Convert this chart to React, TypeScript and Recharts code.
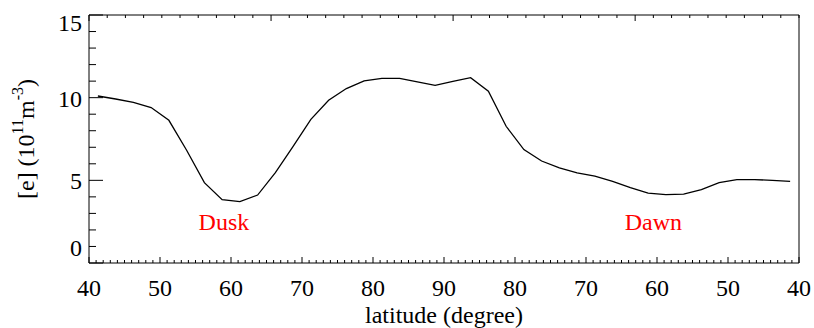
import { Label, Line, LineChart, ReferenceDot, XAxis, YAxis } from "recharts";

// position along the pass: 0 = 40° dusk side, 50 = 90°, 100 = 40° dawn side
const trackPos = [
  1.25, 3.75, 6.25, 8.75, 11.25, 13.75, 16.25, 18.75, 21.25, 23.75,
  26.25, 28.75, 31.25, 33.75, 36.25, 38.75, 41.25, 43.75, 46.25, 48.75,
  51.25, 53.75, 56.25, 58.75, 61.25, 63.75, 66.25, 68.75, 71.25, 73.75,
  76.25, 78.75, 81.25, 83.75, 86.25, 88.75, 91.25, 93.75, 96.25, 98.75,
];
// electron density, 10^11 m^-3
const density = [
  10.1, 9.92, 9.72, 9.4, 8.63, 6.82, 4.86, 3.83, 3.71, 4.11,
  5.47, 7.06, 8.69, 9.84, 10.55, 11.01, 11.17, 11.17, 10.95, 10.75,
  10.99, 11.21, 10.39, 8.27, 6.86, 6.17, 5.75, 5.45, 5.25, 4.94,
  4.56, 4.22, 4.14, 4.17, 4.44, 4.86, 5.04, 5.04, 5.0, 4.94,
];
const xTickLabels = ["40", "50", "60", "70", "80", "90", "80", "70", "60", "50", "40"];
const yTicks = [0, 1, 2, 3, 4, 5, 6, 7, 8, 9, 10, 11, 12, 13, 14, 15];
const yTickLabels: Record<number, string> = { 0: "0", 5: "5", 10: "10", 15: "15" };
const annotations = [
  { pos: 19, value: 2.5, text: "Dusk" },
  { pos: 79.5, value: 2.5, text: "Dawn" },
];

const data = trackPos.map((t, i) => ({ t, ne: density[i] }));
const xTicks = Array.from({ length: 101 }, (_, i) => i);

const FONT = '"Liberation Serif", "Times New Roman", Times, "DejaVu Serif", serif';
const FS = 24;
const txt = { fontFamily: FONT, fontSize: FS };

const BottomTick = (p: any) => {
  const v = p.payload.value;
  const major = v % 10 === 0;
  return (
    <g>
      <line x1={p.x} x2={p.x} y1={p.y} y2={p.y - (major ? 6 : 3)} stroke="#000" />
      {major && (
        <text x={p.x} y={p.y + 33} textAnchor="middle" style={txt} fill="#000">
          {xTickLabels[v / 10]}
        </text>
      )}
    </g>
  );
};

const TopTick = (p: any) => {
  const major = p.payload.value % 10 === 0;
  return <line x1={p.x} x2={p.x} y1={p.y} y2={p.y + (major ? 6 : 3)} stroke="#000" />;
};

const LeftTick = (p: any) => {
  const v = p.payload.value;
  const major = v % 5 === 0;
  // the edge labels sit a little inside the frame in the original
  const shift = v === 15 ? 7 : v === 0 ? -16 : 0;
  return (
    <g>
      <line x1={p.x} x2={p.x + (major ? 14 : 7)} y1={p.y} y2={p.y} stroke="#000" />
      {major && (
        <text x={p.x - 7} y={p.y + shift + 9} textAnchor="end" style={txt} fill="#000">
          {yTickLabels[v]}
        </text>
      )}
    </g>
  );
};

const RightTick = (p: any) => {
  const major = p.payload.value % 5 === 0;
  return <line x1={p.x} x2={p.x - (major ? 14 : 7)} y1={p.y} y2={p.y} stroke="#000" />;
};

const YTitle = (props: any) => {
  const vb = props.viewBox;
  const cy = vb.y + vb.height / 2;
  const bx = 34;
  return (
    <text x={bx} y={cy} transform={`rotate(-90, ${bx}, ${cy})`} textAnchor="middle" style={txt} fill="#000">
      <tspan>[e] (10</tspan>
      <tspan style={{ fontSize: 16 }} dy={-11}>11</tspan>
      <tspan dy={11}>m</tspan>
      <tspan style={{ fontSize: 16 }} dy={-11}>-3</tspan>
      <tspan dy={11}>)</tspan>
    </text>
  );
};

const XTitle = (props: any) => {
  const vb = props.viewBox;
  return (
    <text x={vb.x + vb.width / 2} y={vb.y + 60} textAnchor="middle" style={txt} fill="#000">
      latitude (degree)
    </text>
  );
};

export default function App() {
  return (
    <div style={{ position: "absolute", left: 0, top: 0, width: 814, height: 328, background: "#fff", fontFamily: FONT }}>
      <LineChart width={814} height={328} data={data} margin={{ top: 0, right: 0, bottom: 0, left: 0 }}>
        <XAxis
          xAxisId="b"
          dataKey="t"
          type="number"
          domain={[0, 100]}
          ticks={xTicks}
          interval={0}
          tickSize={0}
          tickMargin={0}
          tickLine={false}
          axisLine={{ stroke: "#000" }}
          height={65}
          tick={BottomTick}
        >
          <Label content={XTitle} />
        </XAxis>
        <XAxis
          xAxisId="top"
          orientation="top"
          type="number"
          domain={[0, 100]}
          ticks={xTicks}
          interval={0}
          tickSize={0}
          tickMargin={0}
          tickLine={false}
          axisLine={{ stroke: "#000" }}
          height={15}
          tick={TopTick}
        />
        <YAxis
          yAxisId="l"
          type="number"
          domain={[0, 15]}
          ticks={yTicks}
          interval={0}
          tickSize={0}
          tickMargin={0}
          tickLine={false}
          axisLine={{ stroke: "#000" }}
          width={89}
          tick={LeftTick}
        >
          <Label content={YTitle} />
        </YAxis>
        <YAxis
          yAxisId="r"
          orientation="right"
          type="number"
          domain={[0, 15]}
          ticks={yTicks}
          interval={0}
          tickSize={0}
          tickMargin={0}
          tickLine={false}
          axisLine={{ stroke: "#000" }}
          width={15}
          tick={RightTick}
        />
        <Line
          xAxisId="b"
          yAxisId="l"
          dataKey="ne"
          type="linear"
          stroke="#000"
          strokeWidth={1.3}
          dot={false}
          isAnimationActive={false}
        />
        {annotations.map(a => (
          <ReferenceDot
            key={a.text}
            xAxisId="b"
            yAxisId="l"
            x={a.pos}
            y={a.value}
            r={0}
            fill="none"
            stroke="none"
            label={{ value: a.text, position: "center", fill: "#ff0000", fontSize: FS, fontFamily: FONT, style: txt }}
          />
        ))}
      </LineChart>
    </div>
  );
}
